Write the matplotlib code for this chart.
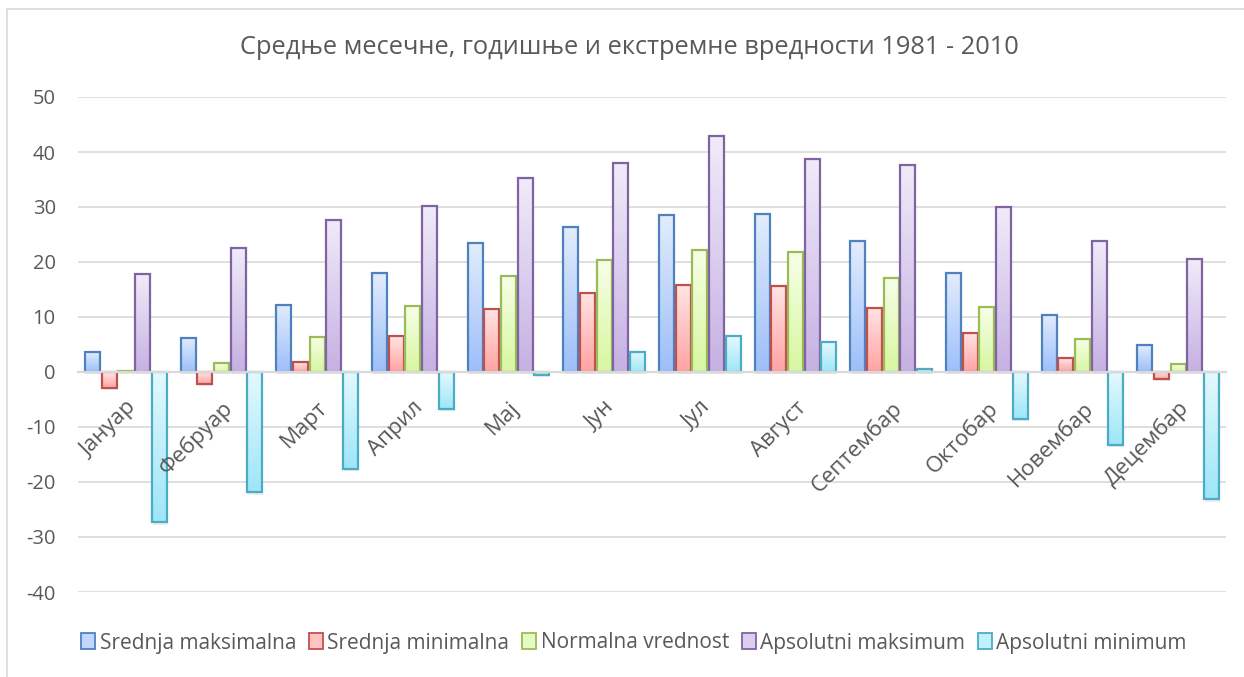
import matplotlib.pyplot as plt
import matplotlib.colors as mcolors
import numpy as np
from matplotlib.patches import Rectangle

months = ["Јануар", "Фебруар", "Март", "Април", "Мај", "Јун",
          "Јул", "Август", "Септембар", "Октобар", "Новембар", "Децембар"]

sred_max = [3.6, 6.2, 12.2, 18.0, 23.5, 26.3, 28.6, 28.8, 23.8, 18.0, 10.4, 4.9]
sred_min = [-2.9, -2.1, 1.8, 6.5, 11.4, 14.4, 15.8, 15.6, 11.7, 7.1, 2.5, -1.2]
normala = [0.2, 1.6, 6.4, 12.0, 17.4, 20.3, 22.2, 21.8, 17.1, 11.9, 6.0, 1.4]
aps_max = [17.8, 22.6, 27.7, 30.1, 35.2, 38.0, 42.9, 38.8, 37.7, 30.0, 23.9, 20.5]
aps_min = [-27.3, -21.9, -17.6, -6.7, -0.5, 3.7, 6.5, 5.4, 0.5, -8.5, -13.2, -23.1]

series_names = ["Srednja maksimalna", "Srednja minimalna", "Normalna vrednost",
                "Apsolutni maksimum", "Apsolutni minimum"]
series_values = [sred_max, sred_min, normala, aps_max, aps_min]

# (edge, gradient top, gradient bottom)
styles = [
    ("#4F81BD", "#E2ECFD", "#9DBFFA"),
    ("#C0504D", "#FFE4E4", "#FFA3A3"),
    ("#9BBB59", "#F6FFE6", "#D7F7A0"),
    ("#8064A2", "#F0EBF9", "#C6B1E3"),
    ("#4BACC6", "#E4F9FD", "#9EE6F8"),
]

TEXT = "#595959"
GRID = "#D9D9D9"
plt.rcParams["font.family"] = ["Open Sans", "DejaVu Sans"]
plt.rcParams["axes.unicode_minus"] = False

fig = plt.figure(figsize=(12.44, 6.77), dpi=100)
ax = fig.add_axes([78 / 1244, 1 - 592 / 677, (1226 - 78) / 1244, (592 - 97) / 677])

# outer chart border (left and top visible)
fig.patches.append(Rectangle((7 / 1244, -0.1), 1.2, 1 - 9 / 677 + 0.1,
                             transform=fig.transFigure, fill=False,
                             edgecolor=GRID, linewidth=1.2, zorder=0))

step = 0.174
width = 0.156
x = np.arange(len(months))

for i, (vals, (edge, top, bot)) in enumerate(zip(series_values, styles)):
    cmap = mcolors.LinearSegmentedColormap.from_list(f"g{i}", [top, bot])
    grad = np.linspace(0, 1, 64).reshape(-1, 1)
    offs = (i - 2) * step
    bars = ax.bar(x + offs, vals, width=width, facecolor="none",
                  edgecolor=edge, linewidth=1.6, zorder=4)
    for b in bars:
        bx, by = b.get_x(), b.get_y()
        bw, bh = b.get_width(), b.get_height()
        y0, y1 = min(by, by + bh), max(by, by + bh)
        # soft shadow
        ax.add_patch(Rectangle((bx + 0.012, y0 - 0.45), bw, y1 - y0,
                               facecolor="#000000", alpha=0.07,
                               edgecolor="none", zorder=2))
        ax.imshow(grad, cmap=cmap, aspect="auto", interpolation="bilinear",
                  extent=(bx, bx + bw, y0, y1), origin="upper", zorder=3)

ax.set_xlim(-0.5, len(months) - 0.5)
ax.set_ylim(-40, 50)

ax.set_yticks(range(-40, 51, 10))
ax.yaxis.grid(True, color=GRID, linewidth=1.2, zorder=0)
ax.set_axisbelow(True)
ax.xaxis.set_zorder(6)  # month labels sit on top of the bars
for s in ["top", "right", "left"]:
    ax.spines[s].set_visible(False)
ax.spines["bottom"].set_position(("data", 0))
ax.spines["bottom"].set_color(GRID)
ax.spines["bottom"].set_linewidth(1.6)
ax.spines["bottom"].set_zorder(5)
ax.tick_params(axis="y", length=0, pad=16, labelsize=14.5, labelcolor=TEXT)
ax.tick_params(axis="x", length=0, pad=18, labelsize=16, labelcolor=TEXT)
ax.set_xticks(x)
ax.set_xticklabels(months, rotation=45, ha="right", rotation_mode="anchor")

fig.text(0.506, 1 - 47 / 677, "Средње месечне, годишње и екстремне вредности 1981 - 2010",
         ha="center", va="center", fontsize=18.3, color=TEXT)

handles = [Rectangle((0, 0), 1, 1, facecolor=mcolors.to_hex(
    np.mean([mcolors.to_rgb(t), mcolors.to_rgb(b)], axis=0)), edgecolor=e, linewidth=1.3)
    for e, t, b in styles]
leg = fig.legend(handles, series_names, loc="center", ncol=5,
                 bbox_to_anchor=(0.5095, 1 - 643 / 677), frameon=False,
                 fontsize=15, handlelength=0.7, handleheight=0.8,
                 handletextpad=0.2, columnspacing=0.6, labelcolor=TEXT)

fig.savefig("out.png", dpi=100)
